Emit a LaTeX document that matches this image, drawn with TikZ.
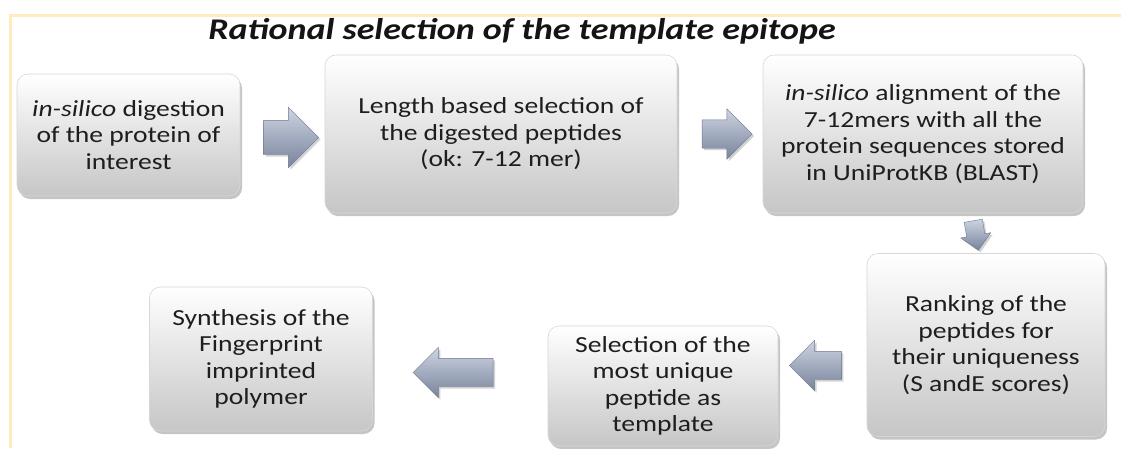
\documentclass[tikz,border=0pt]{standalone}
\usepackage{fontspec}
\setmainfont{Carlito}[FakeStretch=1.2]
\usetikzlibrary{shapes.arrows,shadows,calc}

\tikzset{
  stepbox/.style={rounded corners=11pt, draw={rgb, 255:red, 215; green, 215; blue, 215}, line width=0.6pt,
    top color=white, bottom color={rgb, 255:red, 198; green, 198; blue, 198},
    drop shadow={shadow xshift=2pt, shadow yshift=-3pt, opacity=0.45},
    align=center, inner sep=0pt, font=\fontsize{23}{26.5}\selectfont,
    text={rgb, 255:red, 30; green, 30; blue, 30}},
  flowarrow/.style={single arrow, inner xsep=0pt, draw={rgb, 255:red, 110; green, 120; blue, 140}, line width=0.4pt,
    top color={rgb, 255:red, 205; green, 212; blue, 226}, bottom color={rgb, 255:red, 120; green, 131; blue, 155},
    drop shadow={shadow xshift=2pt, shadow yshift=-2pt, opacity=0.35}}
}

\begin{document}
\begin{tikzpicture}[x=1pt,y=1pt,yscale=-1]
\useasboundingbox (0,0) rectangle (1121,448);
\fill[white] (0,0) rectangle (1121,448);

%Frame
\draw [color={rgb, 255:red, 255; green, 236; blue, 190}, line width=3pt] (10,448) -- (10,15) -- (1121,15) ;

% Title
\node (title) at (522,31) [font=\fontsize{30}{34}\selectfont\bfseries\itshape, text={rgb, 255:red, 20; green, 20; blue, 20}] {Rational selection of the template epitope};

% Steps
\node (digest) at (128.5,135) [stepbox, minimum width=223pt, minimum height=122pt] {\textit{in-silico} digestion\\of the protein of\\interest};
\node (length) at (501,134) [stepbox, minimum width=352pt, minimum height=158pt] {Length based selection of\\the digested peptides\\(ok: 7-12 mer)};
\node (align) at (923,134) [stepbox, minimum width=320pt, minimum height=158pt] {\textit{in-silico} alignment of the\\7-12mers with all the\\protein sequences stored\\in UniProtKB (BLAST)};
\node (rank) at (986,345) [stepbox, minimum width=238pt, minimum height=183pt] {Ranking of the\\peptides for\\their uniqueness\\(S andE scores)};
\node (select) at (663,386) [stepbox, minimum width=230pt, minimum height=120pt] {Selection of the\\most unique\\peptide as\\template};
\node (synth) at (261,359) [stepbox, minimum width=223pt, minimum height=144pt] {Synthesis of the\\Fingerprint\\imprinted\\polymer};

% Arrows
\node (a1) at ($(digest.east)!0.5!(length.west)+(0,3)$) [flowarrow, minimum height=55pt, inner ysep=17pt, single arrow head extend=13pt] {};
\node (a2) at ($(length.east)!0.5!(align.west)$) [flowarrow, minimum height=50pt, inner ysep=14pt, single arrow head extend=11pt] {};
\node (a3) at (975,231) [flowarrow, rotate=-80, minimum height=30pt, inner ysep=9pt, single arrow head extend=6pt] {};
\node (a4) at ($(select.east)!0.5!(rank.west)$) [flowarrow, shape border rotate=180, minimum height=52pt, inner ysep=14pt, single arrow head extend=11pt] {};
\node (a5) at ($(synth.east)!0.5!(select.west)$) [flowarrow, shape border rotate=180, minimum height=80pt, inner ysep=14pt, single arrow head extend=11pt] {};

\end{tikzpicture}
\end{document}
